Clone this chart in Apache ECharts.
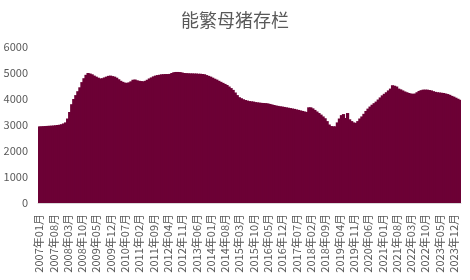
<!DOCTYPE html>
<html>
<head>
<meta charset="utf-8">
<script src="https://cdn.jsdelivr.net/npm/echarts@6/dist/echarts.min.js"></script>
<style>html,body{margin:0;padding:0;background:#fff}#c{width:470px;height:280px}</style>
</head>
<body>
<div id="c"></div>
<script>
var titleText = '能繁母猪存栏';
var startYear = 2007, startMonth = 1;
var values = [
2946,2950,2955,2960,2965,2970,2975,2980,2990,3000,3010,3030,3060,3100,3250,3500,3800,4000,4150,4300,
4450,4650,4800,4930,5000,4980,4950,4900,4860,4820,4790,4800,4830,4860,4890,4900,4880,4860,4820,4760,
4700,4660,4630,4620,4640,4680,4740,4750,4720,4700,4690,4680,4700,4740,4790,4830,4870,4900,4920,4935,
4950,4955,4960,4960,4965,5000,5030,5040,5040,5035,5020,5000,4995,4990,4985,4985,4980,4980,4975,4970,
4965,4950,4920,4890,4860,4820,4780,4745,4700,4660,4620,4580,4540,4480,4420,4350,4250,4150,4070,4030,
3990,3960,3940,3920,3910,3900,3880,3870,3860,3850,3845,3840,3830,3810,3790,3770,3750,3735,3720,3710,
3695,3680,3665,3650,3635,3620,3600,3580,3560,3540,3520,3500,3680,3680,3640,3580,3520,3460,3400,3330,
3260,3150,3020,2960,2950,2950,3100,3250,3380,3420,3270,3460,3220,3150,3100,3080,3150,3250,3330,3430,
3540,3630,3710,3780,3840,3900,3980,4060,4140,4200,4260,4330,4400,4530,4510,4480,4400,4370,4330,4290,
4260,4230,4210,4200,4210,4260,4310,4340,4360,4360,4360,4345,4330,4300,4275,4260,4250,4240,4230,4210,
4190,4160,4120,4090,4050,4010,3970
];
var yTicks = [0,1000,2000,3000,4000,5000,6000];

var categories = [];
for (var i = 0; i < values.length; i++) {
  var m = startMonth - 1 + i;
  var y = startYear + Math.floor(m / 12);
  var mm = (m % 12) + 1;
  categories.push(y + '年' + (mm < 10 ? '0' + mm : mm) + '月');
}

var barColor = '#6C0035';
var chart = echarts.init(document.getElementById('c'), null, {renderer: 'canvas'});
chart.setOption({
  animation: false,
  textStyle: {fontFamily: '"Noto Sans CJK SC", "Noto Sans", sans-serif'},
  title: {
    text: titleText, left: 'center', top: 6,
    textStyle: {fontSize: 18, fontWeight: 'normal', color: '#595959', fontFamily: '"Noto Sans CJK SC", sans-serif'}
  },
  grid: {left: 38, right: 9, top: 47, bottom: 77, containLabel: false},
  xAxis: {
    type: 'category', data: categories,
    axisLine: {show: true, lineStyle: {color: '#D9D9D9', width: 1}},
    axisTick: {show: false},
    axisLabel: {interval: 6, rotate: 90, fontSize: 11, color: '#595959', margin: 11,
      fontFamily: '"Noto Sans CJK SC", sans-serif'}
  },
  yAxis: {
    type: 'value', min: yTicks[0], max: yTicks[yTicks.length - 1], interval: 1000,
    axisLine: {show: false}, axisTick: {show: false}, splitLine: {show: false},
    axisLabel: {fontSize: 11, color: '#595959', margin: 10, formatter: function (v) { return String(v); },
      fontFamily: '"Noto Sans CJK SC", sans-serif'}
  },
  series: [{
    type: 'bar', data: values, barWidth: 3.2,
    itemStyle: {color: barColor}
  }]
});
</script>
</body>
</html>
